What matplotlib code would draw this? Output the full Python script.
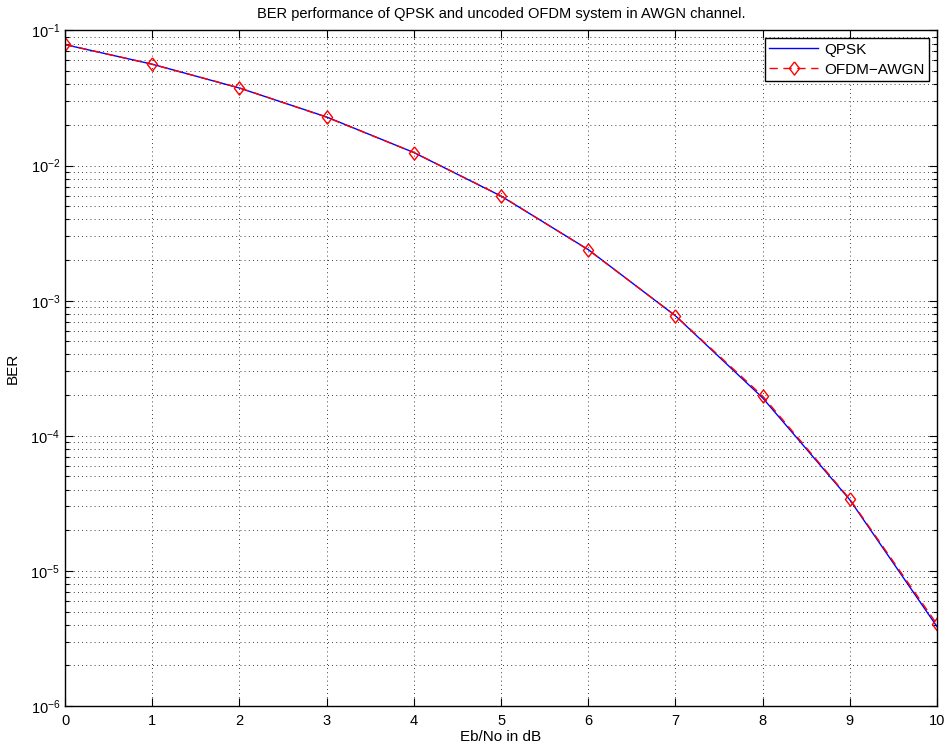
import numpy as np
import matplotlib.pyplot as plt
from matplotlib.ticker import LogLocator, NullFormatter

plt.rcParams['font.family'] = ['Liberation Sans', 'DejaVu Sans']
plt.rcParams['font.size'] = 10.5

# values
ebno = [0, 1, 2, 3, 4, 5, 6, 7, 8, 9, 10]
ber_qpsk = [0.0786, 0.0563, 0.0375, 0.0229, 0.0125, 0.00595, 0.00239,
            7.73e-4, 1.91e-4, 3.36e-5, 3.87e-6]
ber_ofdm = [0.0788, 0.0562, 0.0376, 0.0228, 0.0125, 0.00597, 0.00238,
            7.75e-4, 1.97e-4, 3.40e-5, 4.03e-6]

# matlab-like diamond (a bit taller than wide)
diamond = [(0, 1), (0.77, 0), (0, -1), (-0.77, 0), (0, 1)]

fig = plt.figure(figsize=(9.48, 7.51), dpi=100)
ax = fig.add_axes([0.0686, 0.0599, 0.9198, 0.8995])

ax.semilogy(ebno, ber_qpsk, color='#0000ff', lw=1.0, label='QPSK')
ax.semilogy(ebno, ber_ofdm, color='#ff0000', lw=1.0, ls=(0, (6, 4)),
            marker=diamond, ms=9.5, mfc='none', mec='#ff0000', mew=1.0,
            label='OFDM\u2212AWGN')

ax.set_xlim(0, 10)
ax.set_ylim(1e-6, 1e-1)
ax.set_xticks(range(11))
ax.yaxis.set_major_locator(LogLocator(base=10, numticks=10))
ax.yaxis.set_minor_locator(LogLocator(base=10, subs=np.arange(2, 10), numticks=50))
ax.yaxis.set_minor_formatter(NullFormatter())

ax.grid(True, which='major', axis='both', color='k', ls=(0, (1, 4)), lw=0.6)
ax.grid(True, which='minor', axis='y', color='k', ls=(0, (1, 4)), lw=0.6)

ax.tick_params(which='both', direction='in', top=True, right=True, labelsize=10.5)
ax.tick_params(which='major', length=5.5, width=0.8)
ax.tick_params(which='minor', length=3.2, width=0.8)
ax.tick_params(axis='x', pad=6)
for s in ax.spines.values():
    s.set_linewidth(1.0)

ax.set_xlabel('Eb/No in dB', fontsize=11, labelpad=1)
ax.set_ylabel('BER', fontsize=11, labelpad=8)
ax.set_title('BER performance of QPSK and uncoded OFDM system in AWGN channel.',
             fontsize=10.5, pad=9)

leg = ax.legend(loc='upper right', fancybox=False, edgecolor='k', framealpha=1,
                fontsize=11, handlelength=3.2, handletextpad=0.4,
                borderaxespad=0.5, borderpad=0.3, labelspacing=0.4)
leg.get_frame().set_linewidth(1.0)

fig.savefig('out.png', dpi=100)
